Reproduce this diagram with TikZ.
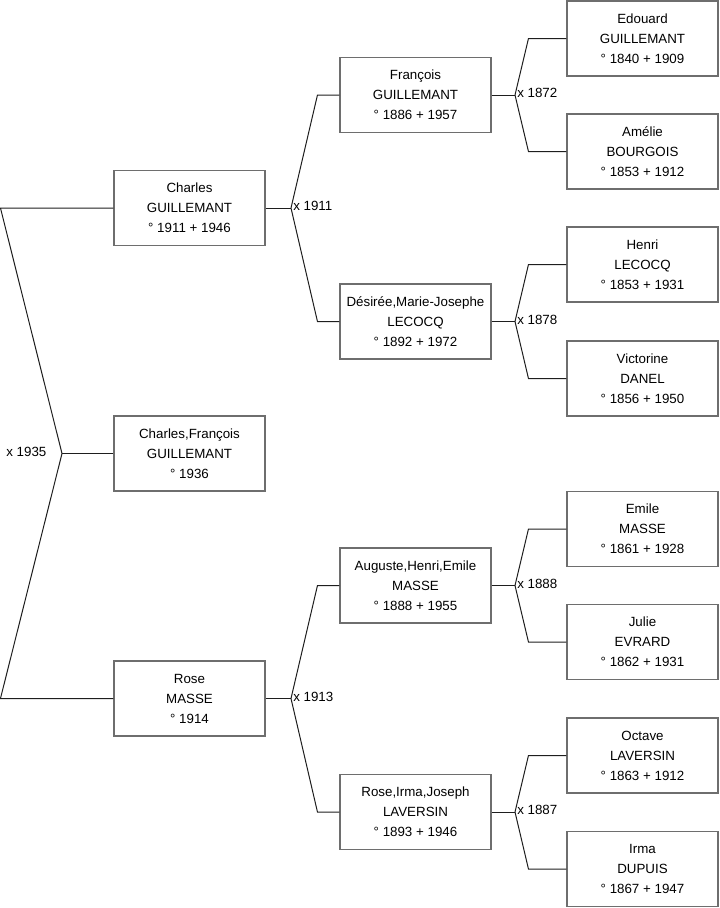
\documentclass[tikz,border=0pt]{standalone}
\usepackage{fontspec}
\setmainfont{Liberation Sans}
\usepackage{tikz}
\usetikzlibrary{positioning, calc}
\definecolor{boxline}{RGB}{110,110,110}
\definecolor{linkline}{RGB}{30,30,30}
\tikzset{
  person/.style={rectangle,draw=boxline,line width=0.8pt,fill=white,align=center,
    font=\fontsize{10}{15}\selectfont,minimum width=113.25pt,minimum height=56.25pt,inner sep=0pt},
  link/.style={draw=linkline,line width=0.75pt},
  marr/.style={font=\fontsize{10}{12}\selectfont,inner sep=1.5pt,yshift=1.5pt}
}

\begin{document}
\begin{tikzpicture}[x=0.75pt,y=-0.75pt]
  \useasboundingbox (0,0) rectangle (719,908);

  % generation 1
  \node[person] (charles) at (189.5,208) {Charles\\GUILLEMANT\\° 1911 + 1946};
  \node[person] (charlesf) at (189.5,453.5) {Charles,François\\GUILLEMANT\\° 1936};
  \node[person] (rose) at (189.5,698.5) {Rose\\MASSE\\° 1914};

  % generation 2
  \node[person] (francois) at (415.5,95) {François\\GUILLEMANT\\° 1886 + 1957};
  \node[person] (desiree) at (415.5,321.5) {Désirée,Marie-Josephe\\LECOCQ\\° 1892 + 1972};
  \node[person] (auguste) at (415.5,585.5) {Auguste,Henri,Emile\\MASSE\\° 1888 + 1955};
  \node[person] (roseirma) at (415.5,812) {Rose,Irma,Joseph\\LAVERSIN\\° 1893 + 1946};

  % generation 3
  \node[person] (edouard) at (642.5,38.5) {Edouard\\GUILLEMANT\\° 1840 + 1909};
  \node[person] (amelie) at (642.5,151.5) {Amélie\\BOURGOIS\\° 1853 + 1912};
  \node[person] (henri) at (642.5,264.5) {Henri\\LECOCQ\\° 1853 + 1931};
  \node[person] (victorine) at (642.5,378.5) {Victorine\\DANEL\\° 1856 + 1950};
  \node[person] (emile) at (642.5,529) {Emile\\MASSE\\° 1861 + 1928};
  \node[person] (julie) at (642.5,642) {Julie\\EVRARD\\° 1862 + 1931};
  \node[person] (octave) at (642.5,755.5) {Octave\\LAVERSIN\\° 1863 + 1912};
  \node[person] (irma) at (642.5,869) {Irma\\DUPUIS\\° 1867 + 1947};

  % marriage forks
  \coordinate (m1935) at (62,453.5);
  \coordinate (m1911) at (291,208);
  \coordinate (m1913) at (291,698.5);
  \coordinate (m1872) at (515,95);
  \coordinate (m1878) at (515,321.5);
  \coordinate (m1888) at (515,585.5);
  \coordinate (m1887) at (515,812);

  \node[marr,left=10pt of m1935] (l1935) {x 1935};
  \node[marr,anchor=west] (l1911) at (m1911) {x 1911};
  \node[marr,anchor=west] (l1913) at (m1913) {x 1913};
  \node[marr,anchor=west] (l1872) at (m1872) {x 1872};
  \node[marr,anchor=west] (l1878) at (m1878) {x 1878};
  \node[marr,anchor=west] (l1888) at (m1888) {x 1888};
  \node[marr,anchor=west] (l1887) at (m1887) {x 1887};

  \draw[link] (charlesf.west) -- (m1935);
  \draw[link] (m1935) -- ([xshift=-84.75pt]charles.west) -- (charles.west);
  \draw[link] (m1935) -- ([xshift=-84.75pt]rose.west) -- (rose.west);

  \draw[link] (charles.east) -- (m1911);
  \draw[link] (m1911) -- ([xshift=-16.5pt]francois.west) -- (francois.west);
  \draw[link] (m1911) -- ([xshift=-16.5pt]desiree.west) -- (desiree.west);
  \draw[link] (rose.east) -- (m1913);
  \draw[link] (m1913) -- ([xshift=-16.5pt]auguste.west) -- (auguste.west);
  \draw[link] (m1913) -- ([xshift=-16.5pt]roseirma.west) -- (roseirma.west);

  \draw[link] (francois.east) -- (m1872);
  \draw[link] (m1872) -- ([xshift=-28.5pt]edouard.west) -- (edouard.west);
  \draw[link] (m1872) -- ([xshift=-28.5pt]amelie.west) -- (amelie.west);
  \draw[link] (desiree.east) -- (m1878);
  \draw[link] (m1878) -- ([xshift=-28.5pt]henri.west) -- (henri.west);
  \draw[link] (m1878) -- ([xshift=-28.5pt]victorine.west) -- (victorine.west);
  \draw[link] (auguste.east) -- (m1888);
  \draw[link] (m1888) -- ([xshift=-28.5pt]emile.west) -- (emile.west);
  \draw[link] (m1888) -- ([xshift=-28.5pt]julie.west) -- (julie.west);
  \draw[link] (roseirma.east) -- (m1887);
  \draw[link] (m1887) -- ([xshift=-28.5pt]octave.west) -- (octave.west);
  \draw[link] (m1887) -- ([xshift=-28.5pt]irma.west) -- (irma.west);
\end{tikzpicture}
\end{document}
